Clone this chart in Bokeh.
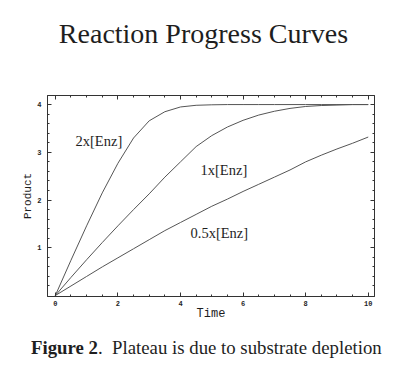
from bokeh.plotting import figure
from bokeh.models import Label, LinearAxis, FixedTicker, Div
from bokeh.layouts import column
from bokeh.embed import file_html
from bokeh.resources import INLINE

# ---- data ----
time = [0, 0.5, 1, 1.5, 2, 2.5, 3, 3.5, 4, 4.5, 5, 5.5, 6, 6.5, 7, 7.5, 8, 8.5, 9, 9.5, 10]
prod_2x = [0, 0.74, 1.46, 2.15, 2.77, 3.30, 3.66, 3.85, 3.95, 3.985, 3.995, 4.0, 4.0, 4.0, 4.0, 4.0, 4.0, 4.0, 4.0, 4.0, 4.0]
prod_1x = [0, 0.38, 0.75, 1.11, 1.46, 1.80, 2.13, 2.48, 2.80, 3.12, 3.35, 3.53, 3.67, 3.78, 3.86, 3.92, 3.96, 3.98, 3.99, 4.0, 4.0]
prod_05x = [0, 0.20, 0.40, 0.60, 0.79, 0.98, 1.17, 1.36, 1.53, 1.70, 1.87, 2.02, 2.18, 2.33, 2.48, 2.63, 2.80, 2.94, 3.07, 3.19, 3.32]
series_names = ["2x[Enz]", "1x[Enz]", "0.5x[Enz]"]
x_ticks = [0, 2, 4, 6, 8, 10]
y_ticks = [1, 2, 3, 4]
title_text = "Reaction Progress Curves"
caption_bold = "Figure 2"
caption_rest = "Plateau is due to substrate depletion"
x_label = "Time"
y_label = "Product"

LINE = "#555555"
FRAME = "#333333"
TEXT = "#1e1e1e"
serif = "Liberation Serif"
mono = "Liberation Mono"

W = 402

# ---- title (HTML text) ----
title_div = Div(
    text=(f'<div style="font-family:\'{serif}\';font-size:28px;line-height:30px;color:{TEXT};'
          f'text-align:center;width:402px;padding-top:19px;padding-left:5px;box-sizing:border-box;'
          f'white-space:nowrap;margin:0;">{title_text}</div>'),
    width=W, height=70, margin=(0, 0, 0, 0))

# ---- main chart ----
p = figure(width=W, height=260, x_range=(-0.25, 10.2), y_range=(-0.02, 4.19),
           toolbar_location=None, output_backend="svg",
           min_border_left=47, min_border_right=28, min_border_top=25, min_border_bottom=34,
           x_axis_location=None, y_axis_location=None, margin=(0, 0, 0, 0))
p.grid.visible = False
p.outline_line_color = FRAME
p.outline_line_width = 1
p.background_fill_color = "white"
p.border_fill_color = "white"

x_minor = [i * 0.5 for i in range(0, 21)]
y_minor = [i * 0.2 for i in range(1, 21)]


def make_axis(major, minor, show_labels, standoff, label=None, label_size="11px", label_standoff=0):
    ax = LinearAxis(ticker=FixedTicker(ticks=major, minor_ticks=minor))
    ax.axis_line_color = FRAME
    ax.major_tick_line_color = FRAME
    ax.minor_tick_line_color = FRAME
    ax.major_tick_in = 4
    ax.major_tick_out = 0
    ax.minor_tick_in = 2
    ax.minor_tick_out = 0
    ax.major_label_standoff = standoff
    ax.major_label_text_font = mono
    ax.major_label_text_font_size = "7px"
    ax.major_label_text_font_style = "bold"
    ax.major_label_text_color = TEXT if show_labels else None
    if label:
        ax.axis_label = label
        ax.axis_label_text_font = mono
        ax.axis_label_text_font_size = label_size
        ax.axis_label_text_font_style = "normal"
        ax.axis_label_text_color = TEXT
        ax.axis_label_standoff = label_standoff
    return ax


p.add_layout(make_axis(x_ticks, x_minor, True, 4, x_label, "12px", -2), "below")
p.add_layout(make_axis(x_ticks, x_minor, False, 4), "above")
p.add_layout(make_axis(y_ticks, y_minor, True, 6, y_label, "11px", 0), "left")
p.add_layout(make_axis(y_ticks, y_minor, False, 6), "right")

for ys in (prod_05x, prod_1x, prod_2x):
    p.line(time, ys, line_color=LINE, line_width=1)

label_pos = [(0.645, 3.227), (4.64, 2.64), (4.32, 1.30)]
for name, (lx, ly) in zip(series_names, label_pos):
    p.add_layout(Label(x=lx, y=ly, text=name, text_align="left", text_baseline="alphabetic",
                       text_font=serif, text_font_size="14.5px", text_color=TEXT))

# ---- caption (HTML text, bold figure number) ----
caption_div = Div(
    text=(f'<div style="font-family:\'{serif}\';font-size:18.8px;line-height:20px;color:{TEXT};'
          f'padding-top:8px;padding-left:31px;white-space:nowrap;margin:0;">'
          f'<b>{caption_bold}</b>.&nbsp; {caption_rest}</div>'),
    width=W, height=35, margin=(0, 0, 0, 0))

layout = column(title_div, p, caption_div, spacing=0, margin=(0, 0, 0, 0))
open("out.html", "w").write(file_html(layout, INLINE))
